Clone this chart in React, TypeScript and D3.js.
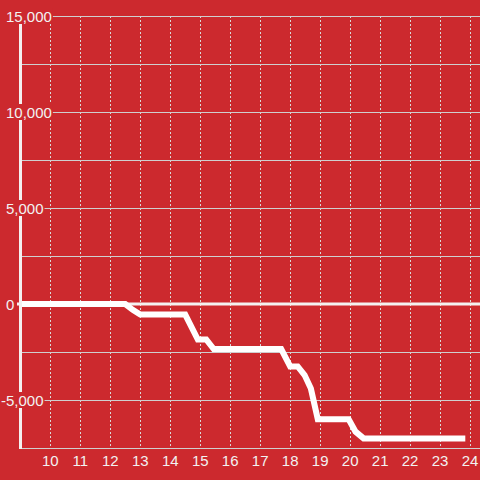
import React from "react";
import * as d3 from "d3";

const hours = [9, 12.5, 12.75, 13, 14.5, 14.92, 15.2, 15.45, 17.7, 18.0, 18.25, 18.48, 18.69, 18.92, 19.0, 19.95, 20.18, 20.45, 23.84];
const values = [0, 0, -300, -550, -550, -1850, -1850, -2350, -2350, -3250, -3250, -3700, -4400, -6000, -6000, -6000, -6650, -7000, -7000];
const xTicks = [10, 11, 12, 13, 14, 15, 16, 17, 18, 19, 20, 21, 22, 23, 24];
const yTicks = [-5000, 0, 5000, 10000, 15000];
const yGrid = [-7500, -5000, -2500, 2500, 5000, 7500, 10000, 12500, 15000];

const W = 480;
const H = 480;
const BG = "#cc292e";
const FONT = "'Liberation Sans', Arial, sans-serif";

function labelWidth(s: string) {
  let w = 0;
  for (const c of s) {
    if (c === ",") w += 4.17;
    else if (c === "-") w += 5;
    else w += 8.34;
  }
  return w;
}

export default function App() {
  const x = d3.scaleLinear().domain([9, 24.33]).range([20.3, 480]);
  const y = d3.scaleLinear().domain([-7500, 15000]).range([448, 16]);
  const fmt = d3.format(",");
  const line = d3
    .line<number>()
    .x((_, i) => x(hours[i]))
    .y((v) => y(v));
  const path = line(values) || "";

  return (
    <svg
      width={W}
      height={H}
      style={{ position: "absolute", left: 0, top: 0, display: "block" }}
    >
      <rect x={0} y={0} width={W} height={H} fill={BG} />
      {/* vertical dotted grid */}
      {xTicks.map((t) => (
        <line
          key={"vx" + t}
          x1={Math.round(x(t)) + 0.5}
          x2={Math.round(x(t)) + 0.5}
          y1={y(15000)}
          y2={y(-7500)}
          stroke="#d9d9d9"
          strokeWidth={1}
          strokeDasharray="2,2"
          shapeRendering="crispEdges"
        />
      ))}
      {/* horizontal grid */}
      {yGrid.map((t) => (
        <line
          key={"hy" + t}
          x1={20}
          x2={W}
          y1={Math.round(y(t)) + 0.5}
          y2={Math.round(y(t)) + 0.5}
          stroke="#cfcfcf"
          strokeWidth={1}
          shapeRendering="crispEdges"
        />
      ))}
      {/* zero line */}
      <line x1={17} x2={W} y1={y(0)} y2={y(0)} stroke="#f4f0f0" strokeWidth={3} />
      {/* data line */}
      <path
        d={path}
        fill="none"
        stroke="#ffffff"
        strokeWidth={6}
        strokeLinejoin="miter"
        strokeLinecap="butt"
      />
      {/* y axis line */}
      <line x1={20.5} x2={20.5} y1={y(15000)} y2={449} stroke="#f4f0f0" strokeWidth={3} />
      {/* y labels */}
      {yTicks.map((t) => {
        const s = fmt(t).replace("\u2212", "-");
        const x0 = t < 0 ? 1 : 6;
        const w = labelWidth(s);
        return (
          <g key={"yl" + t}>
            <rect x={x0 - 2} y={y(t) - 8} width={w + 3} height={16} fill={BG} />
            <text
              x={x0}
              y={y(t) + 5.5}
              fill="#f2f2f2"
              fontSize={15}
              fontFamily={FONT}
              textAnchor="start"
            >
              {s}
            </text>
          </g>
        );
      })}
      {/* x labels */}
      {xTicks.map((t) => (
        <text
          key={"xl" + t}
          x={x(t)}
          y={466}
          fill="#f2f2f2"
          fontSize={15}
          fontFamily={FONT}
          textAnchor="middle"
        >
          {t}
        </text>
      ))}
    </svg>
  );
}
